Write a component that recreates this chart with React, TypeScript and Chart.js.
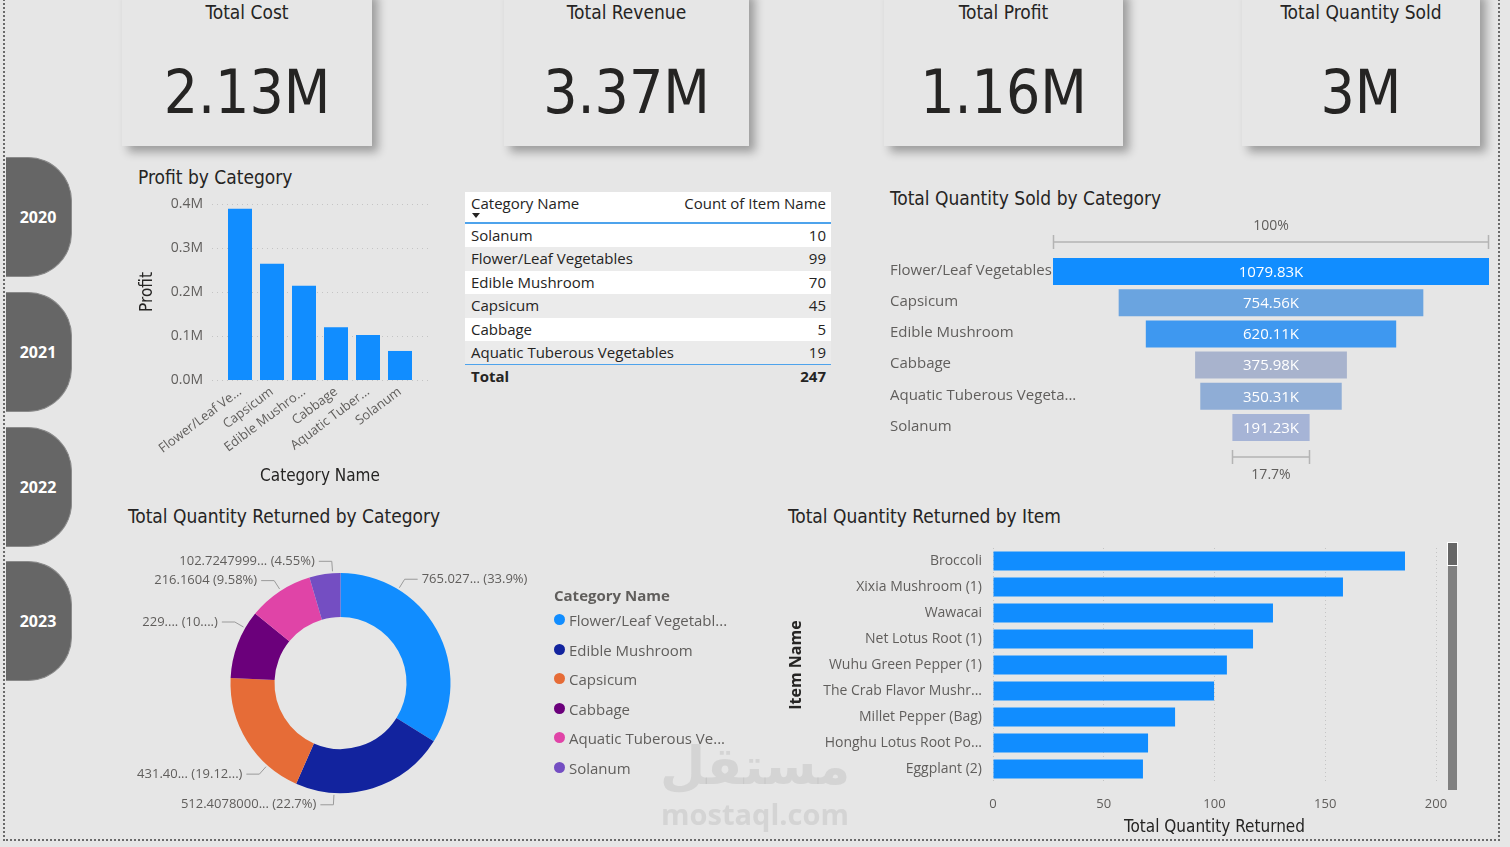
import React, { useEffect, useRef } from "react";
import { Chart, registerables } from "chart.js";
Chart.register(...registerables);

// ---------- DATA ----------
const kpiTitles = ["Total Cost", "Total Revenue", "Total Profit", "Total Quantity Sold"];
const kpiValues = ["2.13M", "3.37M", "1.16M", "3M"];
const years = ["2020", "2021", "2022", "2023"];

const profitCategories = ["Flower/Leaf Vegetables", "Capsicum", "Edible Mushroom", "Cabbage", "Aquatic Tuberous Vegetables", "Solanum"];
const profitTickLabels = ["Flower/Leaf Ve...", "Capsicum", "Edible Mushro...", "Cabbage", "Aquatic Tuber...", "Solanum"];
const profitValues = [389000, 264000, 214000, 120000, 102000, 66000];
const profitTicks = [0, 100000, 200000, 300000, 400000];

const tableCategories = ["Solanum", "Flower/Leaf Vegetables", "Edible Mushroom", "Capsicum", "Cabbage", "Aquatic Tuberous Vegetables"];
const tableCounts = [10, 99, 70, 45, 5, 19];
const tableTotal = 247;

const funnelCategories = ["Flower/Leaf Vegetables", "Capsicum", "Edible Mushroom", "Cabbage", "Aquatic Tuberous Vegetables", "Solanum"];
const funnelTickLabels = ["Flower/Leaf Vegetables", "Capsicum", "Edible Mushroom", "Cabbage", "Aquatic Tuberous Vegeta...", "Solanum"];
const quantitySoldK = [1079.83, 754.56, 620.11, 375.98, 350.31, 191.23];
const funnelColors = ["#118DFF", "#6AA4E0", "#3E98F0", "#A8B3CD", "#8FADD6", "#A6B4D6"];

const returnedCategories = ["Flower/Leaf Vegetables", "Edible Mushroom", "Capsicum", "Cabbage", "Aquatic Tuberous Vegetables", "Solanum"];
const returnedLegendLabels = ["Flower/Leaf Vegetabl...", "Edible Mushroom", "Capsicum", "Cabbage", "Aquatic Tuberous Ve...", "Solanum"];
const returnedValues = [765.027, 512.4078, 431.4, 229.0, 216.1604, 102.7248];
const returnedDataLabels = ["765.027... (33.9%)", "512.4078000... (22.7%)", "431.40... (19.12...)", "229.... (10....)", "216.1604 (9.58%)", "102.7247999... (4.55%)"];
const returnedColors = ["#118DFF", "#12239E", "#E66C37", "#6B007B", "#E044A7", "#744EC2"];

const itemNames = ["Broccoli", "Xixia Mushroom (1)", "Wawacai", "Net Lotus Root (1)", "Wuhu Green Pepper (1)", "The Crab Flavor Mushr...", "Millet Pepper (Bag)", "Honghu Lotus Root Po...", "Eggplant (2)"];
const itemReturned = [186, 158, 126.4, 117.4, 105.6, 99.8, 82.2, 70, 67.7];
const itemTicks = [0, 50, 100, 150, 200];

// ---------- STYLE ----------
const SEGOE = '"Segoe UI", "Open Sans", "Noto Sans", sans-serif';
const DIN = '"Liberation Sans Narrow", "DejaVu Sans Condensed", "Roboto Condensed", Roboto, sans-serif';
const DARK = "#252423";
const GREY = "#605E5C";

Chart.defaults.font.family = SEGOE;

function ChartBox({ left, top, width, height, make }: any) {
  const ref = useRef<HTMLCanvasElement>(null);
  useEffect(() => {
    const chart = new Chart(ref.current as HTMLCanvasElement, make());
    return () => chart.destroy();
  }, []);
  return (
    <div style={{ position: "absolute", left, top, width, height }}>
      <canvas ref={ref} />
    </div>
  );
}

function Label({ x, y, size, children, family = DIN, color = DARK, weight = 400, align = "left", width }: any) {
  const lh = Math.round(size * 1.25);
  const style: any = {
    position: "absolute",
    top: y - lh / 2,
    fontSize: size,
    lineHeight: lh + "px",
    fontFamily: family,
    color,
    fontWeight: weight,
    whiteSpace: "nowrap",
  };
  if (align === "center") {
    style.left = x - width / 2;
    style.width = width;
    style.textAlign = "center";
  } else {
    style.left = x;
  }
  return <div style={style}>{children}</div>;
}

const noPadV = (s: any) => { s.paddingTop = 0; s.paddingBottom = 0; };
const noPadH = (s: any) => { s.paddingLeft = 0; s.paddingRight = 0; };

// ---------- CHART CONFIGS ----------
const dottedGridPlugin = {
  id: "dottedGrid",
  beforeDatasetsDraw(chart: any, _a: any, opts: any) {
    const { ctx, chartArea } = chart;
    const ys = chart.scales.y;
    ctx.save();
    ctx.strokeStyle = "#c4c4c4";
    ctx.lineWidth = 1;
    ctx.setLineDash([1, 4]);
    ys.ticks.forEach((t: any) => {
      const y = Math.round(ys.getPixelForValue(t.value)) + 0.5;
      ctx.beginPath();
      ctx.moveTo(chartArea.left - opts.extend, y);
      ctx.lineTo(chartArea.right + opts.extend, y);
      ctx.stroke();
    });
    ctx.restore();
  },
};

function profitConfig(): any {
  return {
    type: "bar",
    data: {
      labels: profitTickLabels,
      datasets: [{ label: "Profit", data: profitValues, backgroundColor: "#118DFF", barPercentage: 1, categoryPercentage: 0.75 }],
    },
    plugins: [dottedGridPlugin],
    options: {
      animation: false,
      responsive: true,
      maintainAspectRatio: false,
      layout: { padding: { top: 14, right: 12, left: 0, bottom: 0 } },
      plugins: { legend: { display: false }, tooltip: { enabled: false }, dottedGrid: { extend: 12 } },
      scales: {
        x: {
          grid: { display: false, drawTicks: false },
          border: { display: false },
          ticks: { maxRotation: 37, minRotation: 37, font: { size: 13 }, color: GREY, padding: 4, autoSkip: false },
          title: { display: true, text: "Category Name", font: { size: 17, family: DIN }, color: DARK, padding: { top: 0, bottom: 1 } },
          afterFit: (s: any) => { s.height = 108; noPadH(s); },
        },
        y: {
          min: 0,
          max: 400000,
          afterBuildTicks: (s: any) => { s.ticks = profitTicks.map((v) => ({ value: v })); },
          ticks: { callback: (v: any) => (v / 1e6).toFixed(1) + "M", padding: 21, font: { size: 14 }, color: GREY },
          grid: { display: false, drawTicks: false },
          border: { display: false },
          title: { display: true, text: "Profit", font: { size: 17, family: DIN }, color: DARK, padding: { top: 5, bottom: 0 } },
          afterFit: (s: any) => { s.width = 92; noPadV(s); },
        },
      },
    },
  };
}

const funnelPlugin = {
  id: "funnelDecor",
  afterDatasetsDraw(chart: any) {
    const { ctx } = chart;
    const xs = chart.scales.x;
    const ys = chart.scales.y;
    const meta = chart.getDatasetMeta(0);
    const maxV = Math.max(...quantitySoldK);
    const minV = Math.min(...quantitySoldK);
    ctx.save();
    ctx.textBaseline = "middle";
    // category labels
    ctx.font = "15px " + SEGOE;
    ctx.fillStyle = GREY;
    ctx.textAlign = "left";
    meta.data.forEach((bar: any, i: number) => {
      ctx.fillText(funnelTickLabels[i], ys.left, ys.getPixelForTick(i) - 1);
    });
    // values
    ctx.fillStyle = "#ffffff";
    ctx.textAlign = "center";
    meta.data.forEach((bar: any, i: number) => {
      ctx.fillText(quantitySoldK[i].toFixed(2) + "K", xs.getPixelForValue(0), bar.y + 1);
    });
    const drawBracket = (v: number, y: number, text: string, ty: number) => {
      const l = Math.round(xs.getPixelForValue(-v / 2)) + 0.5;
      const r = Math.round(xs.getPixelForValue(v / 2)) - 0.5;
      ctx.strokeStyle = "#b4b4b4";
      ctx.lineWidth = 1.5;
      ctx.beginPath();
      ctx.moveTo(l, y - 7); ctx.lineTo(l, y + 7);
      ctx.moveTo(r, y - 7); ctx.lineTo(r, y + 7);
      ctx.moveTo(l, y); ctx.lineTo(r, y);
      ctx.stroke();
      ctx.fillStyle = GREY;
      ctx.font = "14px " + SEGOE;
      ctx.fillText(text, (l + r) / 2, ty);
    };
    const first = meta.data[0];
    const last = meta.data[meta.data.length - 1];
    const top0 = first.y - first.height / 2;
    const bot = last.y + last.height / 2;
    drawBracket(maxV, top0 - 16, "100%", top0 - 32);
    drawBracket(minV, bot + 16, ((minV / maxV) * 100).toFixed(1) + "%", bot + 34);
    ctx.restore();
  },
};

function funnelConfig(): any {
  const maxV = Math.max(...quantitySoldK);
  return {
    type: "bar",
    data: {
      labels: funnelCategories,
      datasets: [{
        label: "Total Quantity Sold",
        data: quantitySoldK.map((v) => [-v / 2, v / 2]),
        backgroundColor: funnelColors,
        barPercentage: 1,
        categoryPercentage: 0.865,
        borderSkipped: false,
      }],
    },
    plugins: [funnelPlugin],
    options: {
      indexAxis: "y",
      animation: false,
      responsive: true,
      maintainAspectRatio: false,
      layout: { padding: { top: 46, bottom: 47, right: 8, left: 0 } },
      plugins: { legend: { display: false }, tooltip: { enabled: false } },
      scales: {
        x: { display: false, min: -maxV / 2, max: maxV / 2 },
        y: {
          grid: { display: false, drawTicks: false },
          border: { display: false },
          ticks: { display: false },
          afterFit: (s: any) => { s.width = 163; noPadV(s); },
        },
      },
    },
  };
}

const doughnutLabelPlugin = {
  id: "doughnutLabels",
  afterDraw(chart: any, _a: any, opts: any) {
    const { ctx } = chart;
    const meta = chart.getDatasetMeta(0);
    ctx.save();
    ctx.font = "13px " + SEGOE;
    ctx.textBaseline = "middle";
    meta.data.forEach((arc: any, i: number) => {
      const p = arc.getProps(["x", "y", "startAngle", "endAngle", "outerRadius"], true);
      const a = p.startAngle + (p.endAngle - p.startAngle) * opts.anchor[i];
      const cos = Math.cos(a), sin = Math.sin(a);
      const x0 = p.x + cos * (p.outerRadius + 2), y0 = p.y + sin * (p.outerRadius + 2);
      const x1 = p.x + cos * (p.outerRadius + 12), y1 = p.y + sin * (p.outerRadius + 12);
      const right = cos >= 0;
      const x2 = x1 + (right ? 13 : -13);
      ctx.strokeStyle = "#9a9a9a";
      ctx.lineWidth = 1;
      ctx.beginPath();
      ctx.moveTo(x0, y0); ctx.lineTo(x1, y1); ctx.lineTo(x2, y1);
      ctx.stroke();
      ctx.fillStyle = GREY;
      ctx.textAlign = right ? "left" : "right";
      ctx.fillText(returnedDataLabels[i], x2 + (right ? 4 : -4), y1);
    });
    ctx.restore();
  },
};

function doughnutConfig(): any {
  return {
    type: "doughnut",
    data: {
      labels: returnedCategories,
      datasets: [{ data: returnedValues, backgroundColor: returnedColors, borderWidth: 0 }],
    },
    plugins: [doughnutLabelPlugin],
    options: {
      animation: false,
      responsive: true,
      maintainAspectRatio: false,
      cutout: "60%",
      layout: { padding: { left: 110, right: 110, top: 33, bottom: 47 } },
      plugins: {
        legend: { display: false },
        tooltip: { enabled: false },
        doughnutLabels: { anchor: [0.26, 0.75, 0.26, 0.75, 0.52, 0.75] },
      },
    },
  };
}

function itemsConfig(): any {
  return {
    type: "bar",
    data: {
      labels: itemNames,
      datasets: [{ label: "Total Quantity Returned", data: itemReturned, backgroundColor: "#118DFF", barPercentage: 1, categoryPercentage: 0.73 }],
    },
    options: {
      indexAxis: "y",
      animation: false,
      responsive: true,
      maintainAspectRatio: false,
      layout: { padding: { top: 13, right: 14, left: 0, bottom: 0 } },
      plugins: { legend: { display: false }, tooltip: { enabled: false } },
      scales: {
        x: {
          min: 0,
          max: 200,
          afterBuildTicks: (s: any) => { s.ticks = itemTicks.map((v) => ({ value: v })); },
          ticks: { font: { size: 13 }, color: GREY, padding: 14 },
          grid: { color: "#c4c4c4", drawTicks: false },
          border: { display: false, dash: [1, 3] },
          title: { display: true, text: "Total Quantity Returned", font: { size: 17, family: DIN }, color: DARK, padding: { top: 0, bottom: 2 } },
          afterFit: (s: any) => { s.height = 58; noPadH(s); },
        },
        y: {
          grid: { display: false, drawTicks: false },
          border: { display: false },
          ticks: { font: { size: 14 }, color: GREY, padding: 11, autoSkip: false },
          title: { display: true, text: "Item Name", font: { size: 16, weight: "bold" }, color: DARK, padding: { top: 3, bottom: 0 } },
          afterFit: (s: any) => { s.width = 209; noPadV(s); },
        },
      },
    },
  };
}

// ---------- LAYOUT ----------
const cardBoxes = [
  { left: 122, width: 250 },
  { left: 504, width: 245 },
  { left: 884, width: 239 },
  { left: 1242, width: 238 },
];
const yearTops = [157, 292, 427, 561];

export default function App() {
  const rowH = 23.4;
  return (
    <div style={{ position: "fixed", left: 0, top: 0, width: 1510, height: 847, background: "#e6e6e6", overflow: "hidden", fontFamily: SEGOE }}>
      {/* dotted page border */}
      <div style={{ position: "absolute", left: 3, top: -4, width: 1497, height: 845, border: "2px dotted #6a6a6a", borderTop: "none", boxSizing: "border-box" }} />

      {/* KPI cards */}
      {kpiTitles.map((t, i) => (
        <div key={t} style={{ position: "absolute", left: cardBoxes[i].left, top: -10, width: cardBoxes[i].width, height: 156, background: "#e6e6e6", boxShadow: "6px 6px 9px rgba(0,0,0,0.32)" }}>
          <Label x={cardBoxes[i].width / 2} y={22} size={19} align="center" width={cardBoxes[i].width}>{t}</Label>
          <Label x={cardBoxes[i].width / 2} y={102} size={60} align="center" width={cardBoxes[i].width}>{kpiValues[i]}</Label>
        </div>
      ))}

      {/* Year buttons */}
      {years.map((y, i) => (
        <div key={y} style={{ position: "absolute", left: 6, top: yearTops[i], width: 66, height: 120, background: "#666666", borderRadius: "0 44px 44px 0", boxSizing: "border-box", border: "1px solid #8a8a8a", borderLeft: "none" }}>
          <div style={{ position: "absolute", left: 0, top: 0, width: 64, height: 118, display: "flex", alignItems: "center", justifyContent: "center", color: "#fff", fontWeight: 700, fontSize: 16, fontFamily: SEGOE }}>{y}</div>
        </div>
      ))}

      {/* Profit by Category */}
      <Label x={138} y={177} size={19}>Profit by Category</Label>
      <ChartBox left={132} top={190} width={296} height={298} make={profitConfig} />

      {/* Table */}
      <div style={{ position: "absolute", left: 465, top: 192, width: 366, fontSize: 15, color: DARK, fontFamily: SEGOE }}>
        <div style={{ position: "relative", height: 32, background: "#ffffff", borderBottom: "2px solid #4ea3ec", boxSizing: "border-box" }}>
          <div style={{ position: "absolute", left: 6, top: 1, lineHeight: "20px" }}>Category Name</div>
          <div style={{ position: "absolute", right: 5, top: 1, lineHeight: "20px" }}>Count of Item Name</div>
          <div style={{ position: "absolute", left: 7, top: 21, width: 0, height: 0, borderLeft: "4px solid transparent", borderRight: "4px solid transparent", borderTop: "5px solid #252423" }} />
        </div>
        {tableCategories.map((c, i) => (
          <div key={c} style={{ position: "relative", height: rowH, background: i % 2 === 0 ? "#ffffff" : "#ebebeb", lineHeight: rowH + "px" }}>
            <div style={{ position: "absolute", left: 6, top: 0 }}>{c}</div>
            <div style={{ position: "absolute", right: 5, top: 0 }}>{tableCounts[i]}</div>
          </div>
        ))}
        <div style={{ position: "relative", height: 24, borderTop: "1px solid #4ea3ec", lineHeight: "22px", fontWeight: 700 }}>
          <div style={{ position: "absolute", left: 6, top: 0 }}>Total</div>
          <div style={{ position: "absolute", right: 5, top: 0 }}>{tableTotal}</div>
        </div>
      </div>

      {/* Funnel */}
      <Label x={890} y={198} size={19}>Total Quantity Sold by Category</Label>
      <ChartBox left={890} top={210} width={607} height={280} make={funnelConfig} />

      {/* Doughnut */}
      <Label x={128} y={516} size={19}>Total Quantity Returned by Category</Label>
      <ChartBox left={120} top={540} width={441} height={300} make={doughnutConfig} />
      <Label x={554} y={595} size={15} family={SEGOE} color={GREY} weight={700}>Category Name</Label>
      {returnedLegendLabels.map((l, i) => (
        <div key={l} style={{ position: "absolute", left: 554, top: 620 + i * 29.6 - 10, height: 20, lineHeight: "20px", fontSize: 15, color: GREY, whiteSpace: "nowrap" }}>
          <span style={{ position: "absolute", left: 0, top: 4, width: 11, height: 11, borderRadius: "50%", background: returnedColors[i] }} />
          <span style={{ position: "absolute", left: 15, top: 0 }}>{l}</span>
        </div>
      ))}

      {/* Items bar chart */}
      <Label x={788} y={516} size={19}>Total Quantity Returned by Item</Label>
      <ChartBox left={784} top={535} width={666} height={305} make={itemsConfig} />
      <div style={{ position: "absolute", left: 1448, top: 542, width: 9, height: 248, background: "#808080" }} />
      <div style={{ position: "absolute", left: 1447, top: 542, width: 11, height: 24, background: "#666666", border: "1px solid #ffffff", boxSizing: "border-box" }} />

      {/* watermark */}
      <div style={{ position: "absolute", left: 655, top: 735, width: 200, textAlign: "center", color: "rgba(160,160,160,0.25)", fontFamily: '"DejaVu Sans", sans-serif', fontWeight: 700, pointerEvents: "none" }}>
        <div style={{ fontSize: 52, lineHeight: "62px" }}>مستقل</div>
        <div style={{ fontSize: 29, lineHeight: "34px", fontFamily: '"Open Sans", sans-serif' }}>mostaql.com</div>
      </div>
    </div>
  );
}
